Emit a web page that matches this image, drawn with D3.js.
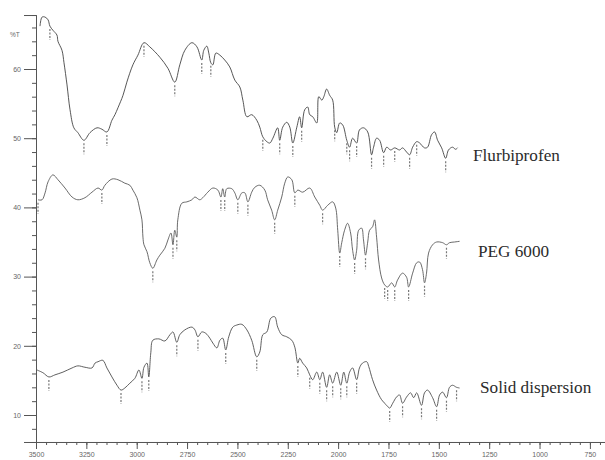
<!DOCTYPE html>
<html>
<head>
<meta charset="utf-8">
<script src="https://cdn.jsdelivr.net/npm/d3@7"></script>
<style>
  body { margin: 0; background: #fff; }
  svg { display: block; }
</style>
</head>
<body>
<div id="chart"></div>
<script>
// wavenumber (cm-1) and %T
let flurWn = [3480,3470,3455,3440,3431,3416,3396,3391,3371,3361,3346,3331,3312,3292,3262,3232,3197,3173,3148,3123,3108,3093,3068,3049,3019,2994,2964,2935,2885,2845,2811,2786,2761,2726,2701,2677,2667,2652,2642,2632,2622,2607,2587,2563,2538,2513,2488,2473,2453,2429,2404,2389,2374,2354,2339,2324,2300,2290,2275,2255,2240,2225,2205,2191,2181,2166,2151,2141,2126,2106,2096,2081,2071,2057,2042,2027,2017,2007,1992,1977,1957,1943,1928,1908,1894,1874,1853,1834,1824,1809,1794,1774,1759,1739,1719,1695,1680,1660,1645,1630,1610,1595,1571,1556,1536,1521,1506,1486,1466,1452,1432,1417,1407];
let flurT = [66.2,67.5,67.5,67.1,66.2,65.6,64.9,64.0,62.7,60.9,57.7,54.1,51.5,50.8,49.7,50.8,51.5,51.3,50.9,52.6,53.4,54.4,56.2,58.1,60.6,62.0,63.8,63.2,61.7,60.1,58.1,60.6,62.7,63.8,63.2,61.3,62.7,63.3,62.3,60.9,60.6,62.3,62.0,61.3,60.3,58.4,57.4,55.5,53.1,53.4,52.6,51.6,50.2,49.5,49.3,50.0,51.5,49.7,51.6,52.3,51.6,49.3,51.6,53.1,51.5,54.1,54.5,53.4,53.1,52.2,56.0,55.5,56.0,57.1,56.2,55.5,51.6,50.8,52.2,51.9,49.7,48.7,50.0,49.3,51.2,51.5,50.9,47.6,48.7,50.0,49.7,47.9,48.7,48.3,48.6,48.3,48.6,48.0,47.6,48.7,49.5,49.3,48.6,48.7,50.5,50.9,49.7,48.6,47.1,48.3,48.7,48.4,48.6];

let pegWn = [3490,3470,3455,3440,3416,3391,3356,3321,3292,3257,3222,3192,3173,3158,3123,3093,3059,3034,3019,2999,2984,2974,2969,2964,2949,2935,2920,2900,2885,2860,2845,2830,2820,2811,2801,2796,2776,2751,2726,2711,2687,2672,2647,2622,2597,2582,2573,2563,2553,2528,2513,2498,2478,2463,2448,2429,2414,2389,2364,2350,2330,2315,2300,2280,2265,2250,2230,2215,2200,2176,2141,2116,2091,2077,2052,2027,2012,2002,1992,1982,1968,1953,1938,1928,1918,1908,1898,1883,1874,1864,1853,1844,1829,1819,1809,1799,1784,1769,1754,1734,1719,1705,1680,1660,1650,1630,1610,1595,1581,1571,1561,1551,1531,1511,1481,1462,1447,1422,1397];
let pegT = [41.1,41.1,42.1,43.7,44.7,44.0,42.8,41.5,41.1,41.4,42.2,42.8,42.5,43.2,44.1,44.0,43.5,43.2,42.5,41.4,39.6,38.2,35.7,34.6,33.6,32.0,31.2,32.4,33.1,34.1,35.3,36.3,34.6,36.7,35.7,38.2,40.6,40.8,41.1,41.5,41.1,41.4,42.2,42.8,42.5,41.5,42.7,41.5,42.7,42.7,42.1,41.1,42.1,42.1,40.8,42.2,42.9,43.2,42.5,41.1,39.6,38.2,39.6,41.5,43.5,44.4,44.0,42.1,42.5,42.2,42.8,41.5,40.3,39.6,40.3,40.8,39.9,36.7,33.4,34.9,36.7,37.7,36.3,33.8,32.4,33.8,36.7,37.0,35.3,33.1,35.0,36.7,37.2,38.2,35.7,32.4,29.8,28.8,28.5,29.1,28.5,29.5,30.5,29.9,28.5,30.5,32.0,32.1,31.0,29.1,30.5,33.4,34.6,35.0,34.9,34.6,34.9,35.0,35.1];

let sdWn = [3495,3465,3436,3406,3366,3321,3292,3257,3222,3207,3192,3168,3148,3123,3098,3078,3059,3034,3009,2989,2974,2964,2949,2940,2930,2920,2890,2860,2835,2820,2801,2786,2761,2726,2711,2696,2677,2657,2637,2622,2602,2587,2573,2558,2543,2523,2503,2478,2453,2429,2404,2389,2374,2354,2334,2315,2300,2280,2255,2230,2215,2200,2191,2176,2156,2141,2126,2106,2091,2077,2057,2042,2027,2007,1987,1972,1957,1943,1928,1908,1894,1879,1858,1848,1829,1809,1784,1759,1744,1729,1710,1695,1680,1660,1640,1625,1610,1586,1571,1556,1531,1511,1496,1481,1462,1447,1432,1412,1397];
let sdT = [16.5,16.1,15.5,15.8,16.2,16.8,17.1,16.9,16.8,17.5,17.7,17.9,16.8,15.5,14.3,13.6,13.9,14.6,15.3,16.5,15.3,16.9,17.5,15.5,19.0,20.8,21.0,20.7,21.6,22.0,20.5,21.6,22.3,22.7,22.3,21.3,22.0,21.8,21.1,20.4,19.7,20.8,21.1,19.4,21.3,22.7,23.0,23.1,22.3,20.8,18.4,19.1,21.6,22.0,24.0,24.2,22.7,21.6,21.3,20.8,19.8,17.5,18.2,17.5,16.8,15.8,15.1,16.2,15.1,16.2,14.0,15.8,14.6,16.2,14.3,16.2,14.6,16.2,16.8,15.1,16.8,17.5,17.7,17.0,15.1,13.6,12.2,11.4,11.0,11.7,12.6,12.9,11.7,12.6,13.2,12.5,13.2,11.4,13.2,13.6,12.5,11.2,12.9,13.3,12.5,14.0,14.3,14.0,13.9];

// labelled peaks (small vertical marks under the trace)
let flurPeaks = [3431,3262,3148,2964,2811,2677,2632,2374,2290,2225,2181,2017,1957,1943,1908,1834,1774,1719,1645,1610,1466];
let pegPeaks = [3490,3173,2920,2820,2801,2582,2563,2498,2448,2315,2215,2077,1992,1918,1864,1769,1754,1719,1650,1571,1462];
let sdPeaks = [3436,3078,2974,2940,2801,2696,2558,2404,2200,2141,2091,2057,2027,1987,1957,1908,1744,1680,1586,1511,1462,1412];

let seriesNames = ["Flurbiprofen", "PEG 6000", "Solid dispersion"];
let xMajor = d3.range(3500, 749, -250);
let xMinor = d3.range(3500, 674, -50);
let yMajor = [10, 20, 30, 40, 50, 60];
let yMinor = d3.range(8, 67, 2);

let width = 605, height = 460;

let svg = d3.select("#chart")
    .append("svg")
    .attr("width", width)
    .attr("height", height);

let x = d3.scaleLinear().domain([3500, 675]).range([36, 605]);
let yBase = d3.scaleLinear().domain([10, 60]).range([415, 69]);
let y = d3.scaleLinear().domain([6.1, 67.8]).range([yBase(6.1), yBase(67.8)]);

let axisColor = "#555";

// x axis
let gx = svg.append("g").attr("transform", `translate(0, ${y(6.1)})`);
gx.call(d3.axisBottom(x).tickValues(xMinor).tickSize(3).tickFormat(""));
gx.append("g").call(d3.axisBottom(x).tickValues(xMajor).tickSize(7).tickPadding(3).tickFormat(d3.format("d")));
gx.selectAll("path, line").attr("stroke", axisColor);
gx.selectAll("text")
    .attr("fill", "#666")
    .style("font-family", "Liberation Sans, Arial, sans-serif")
    .style("font-size", "7px");

// y axis
let gy = svg.append("g").attr("transform", `translate(36, 0)`);
gy.call(d3.axisLeft(y).tickValues(yMinor).tickSize(4).tickFormat(""));
gy.append("g").call(d3.axisLeft(y).tickValues(yMajor).tickSize(12).tickPadding(3).tickFormat(d3.format("d")));
gy.selectAll("path, line").attr("stroke", axisColor);
gy.selectAll("text")
    .attr("fill", "#666")
    .style("font-family", "Liberation Sans, Arial, sans-serif")
    .style("font-size", "7px");

svg.append("text")
    .attr("x", 10)
    .attr("y", 37)
    .attr("fill", "#666")
    .style("font-family", "Liberation Sans, Arial, sans-serif")
    .style("font-size", "6.5px")
    .text("%T");

let line = d3.line()
    .x(function(d) { return x(d[0]); })
    .y(function(d) { return y(d[1]); })
    .curve(d3.curveCatmullRom.alpha(0.5));

function drawTrace(wn, t, peaks, color) {
    let pts = wn.map(function(w, i) { return [w, t[i]]; });
    svg.append("path")
        .datum(pts)
        .attr("d", line)
        .attr("fill", "none")
        .attr("stroke", color)
        .attr("stroke-width", 0.9);

    // peak marks sit just below the trace value at that wavenumber
    let marks = peaks.map(function(p) {
        let j = d3.minIndex(wn, function(w) { return Math.abs(w - p); });
        return [wn[j], t[j]];
    });
    svg.selectAll(null)
        .data(marks)
        .enter()
        .append("line")
        .attr("x1", function(d) { return x(d[0]); })
        .attr("x2", function(d) { return x(d[0]); })
        .attr("y1", function(d) { return y(d[1]) + 3; })
        .attr("y2", function(d) { return y(d[1]) + 14; })
        .attr("stroke", "#777")
        .attr("stroke-width", 1.2)
        .attr("stroke-dasharray", "2,1.5");
}

drawTrace(flurWn, flurT, flurPeaks, "#444");
drawTrace(pegWn, pegT, pegPeaks, "#5a5a5a");
drawTrace(sdWn, sdT, sdPeaks, "#4e4e4e");

let labelPos = [[473, 161], [478, 257], [480, 393]];
svg.selectAll(".name")
    .data(seriesNames)
    .enter()
    .append("text")
    .attr("class", "name")
    .attr("x", function(d, i) { return labelPos[i][0]; })
    .attr("y", function(d, i) { return labelPos[i][1]; })
    .attr("fill", "#2b2b2b")
    .style("font-family", "Liberation Serif, Times New Roman, serif")
    .style("font-size", "17.2px")
    .text(function(d) { return d; });
</script>
</body>
</html>
